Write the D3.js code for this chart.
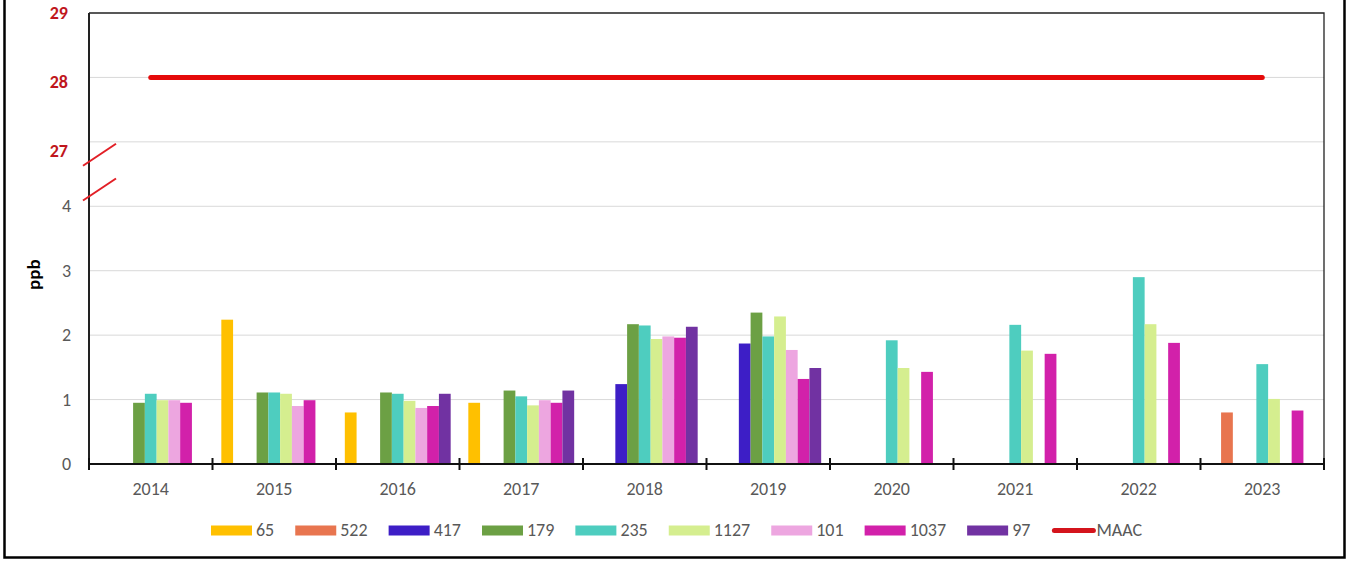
<!DOCTYPE html>
<html>
<head>
<meta charset="utf-8">
<script src="https://cdn.jsdelivr.net/npm/d3@7"></script>
<style>
  body { margin: 0; background: #fff; }
  svg { display: block; font-family: Carlito, Lato, "Liberation Sans Narrow", sans-serif; }
</style>
</head>
<body>
<script>
// Data
const years = ['2014', '2015', '2016', '2017', '2018', '2019', '2020', '2021', '2022', '2023'];
const seriesNames = ['65', '522', '417', '179', '235', '1127', '101', '1037', '97'];
const seriesColors = ['#FFC000', '#E8754F', '#3D1EC6', '#6CA044', '#4ECDBF', '#D5EE8F', '#EDA6E0', '#D221AA', '#7132A2'];
const s65   = [null, 2.24, 0.80, 0.95, null, null, null, null, null, null];
const s522  = [null, null, null, null, null, null, null, null, null, 0.80];
const s417  = [null, null, null, null, 1.24, 1.87, null, null, null, null];
const s179  = [0.95, 1.11, 1.11, 1.14, 2.17, 2.35, null, null, null, null];
const s235  = [1.09, 1.11, 1.09, 1.05, 2.15, 1.98, 1.92, 2.16, 2.90, 1.55];
const s1127 = [0.99, 1.09, 0.98, 0.91, 1.94, 2.29, 1.49, 1.76, 2.17, 1.01];
const s101  = [0.99, 0.90, 0.87, 0.99, 1.98, 1.77, null, null, null, null];
const s1037 = [0.95, 0.99, 0.90, 0.95, 1.96, 1.32, 1.43, 1.71, 1.88, 0.83];
const s97   = [null, null, 1.09, 1.14, 2.13, 1.49, null, null, null, null];
const seriesValues = [s65, s522, s417, s179, s235, s1127, s101, s1037, s97];
const maacValue = 28;
const lowTicks = [0, 1, 2, 3, 4];
const highTicks = [27, 28, 29];

// Layout
const w = 1348, h = 561;
const mLeft = 89, mRight = 1324, mTop = 13, mBottom = 464;
const breakOffset = 22; // values above the break are shifted down by this
const fontSize = 18;

const svg = d3.select('body').append('svg')
  .attr('width', w)
  .attr('height', h);

// Scales (axis position units: 0..7, where 27..29 sit at 5..7)
const yScale = d3.scaleLinear().domain([0, 7]).range([mBottom, mTop]);
const yPos = (v) => yScale(v > 4 ? v - breakOffset : v);

const x0 = d3.scaleBand().domain(years).range([mLeft, mRight]).padding(0);
const barW = x0.bandwidth() / 10.5;
const x1 = d3.scaleBand().domain(seriesNames)
  .range([barW * 0.75, x0.bandwidth() - barW * 0.75]).padding(0);

// Gridlines
const gridVals = lowTicks.slice(1).concat(highTicks.slice(0, 2));
svg.append('g').selectAll('line')
  .data(gridVals)
  .enter().append('line')
  .attr('x1', mLeft).attr('x2', mRight)
  .attr('y1', (d) => yPos(d)).attr('y2', (d) => yPos(d))
  .attr('stroke', '#d9d9d9')
  .attr('stroke-width', 1);

// Plot border (top and right)
svg.append('path')
  .attr('d', `M${mLeft},${mTop}H${mRight}V${mBottom}`)
  .attr('fill', 'none')
  .attr('stroke', '#222')
  .attr('stroke-width', 1.3);

// Bars
const barData = [];
seriesNames.forEach((name, i) => {
  seriesValues[i].forEach((v, j) => {
    if (v !== null) barData.push({ name: name, year: years[j], value: v, color: seriesColors[i] });
  });
});

svg.append('g').selectAll('rect')
  .data(barData)
  .enter().append('rect')
  .attr('x', (d) => x0(d.year) + x1(d.name))
  .attr('width', x1.bandwidth())
  .attr('y', (d) => yPos(d.value))
  .attr('height', (d) => yPos(0) - yPos(d.value))
  .attr('fill', (d) => d.color);

// MAAC line through category centres
const maacLine = d3.line()
  .x((d) => x0(d) + x0.bandwidth() / 2)
  .y(() => yPos(maacValue));
svg.append('path')
  .datum([years[0], years[years.length - 1]])
  .attr('d', maacLine)
  .attr('fill', 'none')
  .attr('stroke', '#E50A0A')
  .attr('stroke-width', 5)
  .attr('stroke-linecap', 'round');

// Y axis line
svg.append('line')
  .attr('x1', mLeft).attr('x2', mLeft)
  .attr('y1', mTop).attr('y2', mBottom)
  .attr('stroke', '#222')
  .attr('stroke-width', 2);

// X axis with crossing ticks
const xAxis = svg.append('g');
xAxis.append('line')
  .attr('x1', mLeft).attr('x2', mRight + 1)
  .attr('y1', mBottom).attr('y2', mBottom)
  .attr('stroke', '#111')
  .attr('stroke-width', 2.2);
xAxis.selectAll('.tick')
  .data(years.concat(['end']))
  .enter().append('line')
  .attr('x1', (d, i) => mLeft + i * x0.bandwidth())
  .attr('x2', (d, i) => mLeft + i * x0.bandwidth())
  .attr('y1', mBottom - 6).attr('y2', mBottom + 6)
  .attr('stroke', '#111')
  .attr('stroke-width', 2);
xAxis.selectAll('text')
  .data(years)
  .enter().append('text')
  .attr('x', (d) => x0(d) + x0.bandwidth() / 2)
  .attr('y', 495)
  .attr('text-anchor', 'middle')
  .attr('fill', '#595959')
  .attr('font-size', fontSize)
  .text((d) => d);

// Y tick labels
svg.append('g').selectAll('text')
  .data(lowTicks)
  .enter().append('text')
  .attr('x', 71)
  .attr('y', (d) => yPos(d) + 6)
  .attr('text-anchor', 'end')
  .attr('fill', '#595959')
  .attr('font-size', fontSize)
  .text((d) => d);
// red labels above the break are hand-placed text boxes, slightly low
const redNudge = [9, 5, 0];
svg.append('g').selectAll('text')
  .data(highTicks)
  .enter().append('text')
  .attr('x', 68)
  .attr('y', (d, i) => yPos(d) + 6 + redNudge[i])
  .attr('text-anchor', 'end')
  .attr('fill', '#C0161C')
  .attr('font-weight', 'bold')
  .attr('font-size', fontSize)
  .text((d) => d);

// Axis break marks
[4.8, 4.26].forEach((v) => {
  const cy = yScale(v);
  svg.append('line')
    .attr('x1', mLeft - 6).attr('y1', cy + 11)
    .attr('x2', mLeft + 27).attr('y2', cy - 11)
    .attr('stroke', '#E21F26')
    .attr('stroke-width', 2);
});

// Y axis title
svg.append('text')
  .attr('transform', `translate(40, ${yPos(2.94)}) rotate(-90)`)
  .attr('text-anchor', 'middle')
  .attr('font-weight', 'bold')
  .attr('font-size', 19)
  .attr('fill', '#000')
  .text('ppb');

// Legend
const legend = svg.append('g');
let lx = 211;
const ly = 530.5;
const legendItems = seriesNames.map((n, i) => ({ name: n, color: seriesColors[i], line: false }))
  .concat([{ name: 'MAAC', color: '#E50A0A', line: true }]);
legendItems.forEach((item) => {
  if (item.line) {
    legend.append('line')
      .attr('x1', lx + 3).attr('x2', lx + 42)
      .attr('y1', ly).attr('y2', ly)
      .attr('stroke', '#D4141C')
      .attr('stroke-width', 5)
      .attr('stroke-linecap', 'round');
  } else {
    legend.append('rect')
      .attr('x', lx).attr('y', ly - 5)
      .attr('width', 41).attr('height', 10)
      .attr('fill', item.color);
  }
  const t = legend.append('text')
    .attr('x', item.line ? lx + 45 : lx + 45)
    .attr('y', 536)
    .attr('fill', '#595959')
    .attr('font-size', fontSize)
    .text(item.name);
  lx += 45 + t.node().getComputedTextLength() + 21;
});

// Outer frame
svg.append('path')
  .attr('d', `M4.5,0V557.5H1344.5V0`)
  .attr('fill', 'none')
  .attr('stroke', '#000')
  .attr('stroke-width', 2.5);
</script>
</body>
</html>
